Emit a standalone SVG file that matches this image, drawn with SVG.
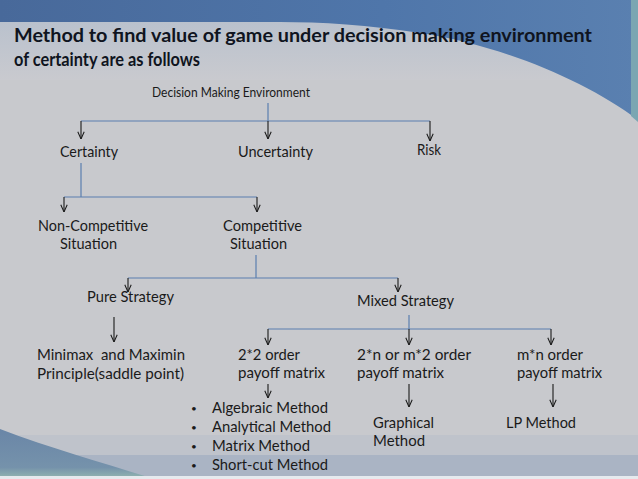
<svg xmlns="http://www.w3.org/2000/svg" width="638" height="479" viewBox="0 0 638 479">
<defs>
<linearGradient id="topg" x1="0" y1="0" x2="1" y2="0">
<stop offset="0" stop-color="#48699a"/>
<stop offset="0.6" stop-color="#4f76aa"/>
<stop offset="1" stop-color="#5a80b0"/>
</linearGradient>
<linearGradient id="bandg" x1="0" y1="0" x2="0" y2="1">
<stop offset="0" stop-color="#b9c1cd"/>
<stop offset="1" stop-color="#c9cacf"/>
</linearGradient>
<linearGradient id="triG" x1="0" y1="0" x2="0" y2="1">
<stop offset="0" stop-color="#6a86a7"/>
<stop offset="0.8" stop-color="#7592ab"/>
<stop offset="1" stop-color="#8fb2b0"/>
</linearGradient>
<marker id="ah" viewBox="0 0 10 10" refX="10" refY="5" markerWidth="8" markerHeight="8" markerUnits="userSpaceOnUse" orient="auto">
<path d="M1,1 L10,5 L1,9" fill="none" stroke="#1a1a1a" stroke-width="1.3"/>
</marker>
<style>
text{font-family:Lato,"Liberation Sans",Arial,sans-serif;fill:#1a1a1a;font-size:15px;white-space:pre}
.t{font-weight:bold;font-size:18.5px;fill:#0f1420}
.s{font-size:13px}
.d{font-size:10px}
.b{stroke:#5b7fb0;stroke-width:1.2;fill:none}
.a{stroke:#1a1a1a;stroke-width:1.1;fill:none;marker-end:url(#ah)}
</style>
</defs>
<!-- background -->
<rect width="638" height="479" fill="#c8c9cd"/>
<rect x="0" y="20" width="638" height="60" fill="url(#bandg)"/>
<path d="M0,0 H638 V120 C585,80 500,45 420,33 C370,25 320,22 280,22 H0 Z" fill="url(#topg)"/>
<path d="M631,0 H638 V122 L631,116 Z" fill="#7aa6b2"/>
<rect x="0" y="435" width="638" height="20" fill="#bfc3cb"/>
<rect x="0" y="455" width="638" height="21" fill="#aab4c4"/>
<path d="M0,429 C50,448 100,462 148,477 H0 Z" fill="url(#triG)"/>
<rect x="0" y="476" width="638" height="3" fill="#e6eaee"/>
<!-- title -->
<g id="title">
<text class="t" x="14" y="42" textLength="578" lengthAdjust="spacingAndGlyphs">Method to find value of game under decision making environment</text>
<text class="t" x="14" y="66" textLength="186" lengthAdjust="spacingAndGlyphs">of certainty are as follows</text>
</g>
<!-- connectors -->
<g id="connectors">
<path class="b" d="M268,103 V121 M81,121 H430"/>
<path class="a" d="M81,121 V139"/>
<path class="a" d="M268,121 V139"/>
<path class="a" d="M430,121 V141"/>
<path class="b" d="M81,163 V197 M64,197 H257"/>
<path class="a" d="M64,197 V212"/>
<path class="a" d="M257,197 V212"/>
<path class="b" d="M256,255 V278 M128,278 H398"/>
<path class="a" d="M128,278 V292"/>
<path class="a" d="M398,278 V292"/>
<path class="a" d="M114,317 V342"/>
<path class="b" d="M409,315 V329 M268,329 H551"/>
<path class="a" d="M268,329 V345"/>
<path class="a" d="M409,329 V345"/>
<path class="a" d="M551,329 V345"/>
<path class="a" d="M268,384 V398"/>
<path class="a" d="M409,384 V407"/>
<path class="a" d="M553,384 V407"/>
</g>
<!-- nodes -->
<g id="n-dme"><text class="s" x="152" y="97" textLength="158" lengthAdjust="spacingAndGlyphs">Decision Making Environment</text></g>
<g id="n-certainty"><text x="60" y="157" textLength="58" lengthAdjust="spacingAndGlyphs">Certainty</text></g>
<g id="n-uncertainty"><text x="238" y="157" textLength="75" lengthAdjust="spacingAndGlyphs">Uncertainty</text></g>
<g id="n-risk"><text x="417" y="155" textLength="24" lengthAdjust="spacingAndGlyphs" style="font-size:15.5px">Risk</text></g>
<g id="n-noncomp"><text x="38" y="231" textLength="110" lengthAdjust="spacingAndGlyphs">Non-Competitive</text><text x="60" y="249" textLength="57" lengthAdjust="spacingAndGlyphs">Situation</text></g>
<g id="n-comp"><text x="223" y="231" textLength="79" lengthAdjust="spacingAndGlyphs">Competitive</text><text x="230" y="249" textLength="57" lengthAdjust="spacingAndGlyphs">Situation</text></g>
<g id="n-pure"><text x="87" y="302" textLength="87" lengthAdjust="spacingAndGlyphs">Pure Strategy</text></g>
<g id="n-mixed"><text x="357" y="306" textLength="97" lengthAdjust="spacingAndGlyphs">Mixed Strategy</text></g>
<g id="n-minimax"><text x="37" y="360" textLength="148" lengthAdjust="spacingAndGlyphs">Minimax  and Maximin</text><text x="37" y="379" textLength="147" lengthAdjust="spacingAndGlyphs">Principle(saddle point)</text></g>
<g id="n-22"><text x="238" y="360" textLength="62" lengthAdjust="spacingAndGlyphs">2*2 order</text><text x="238" y="378" textLength="87" lengthAdjust="spacingAndGlyphs">payoff matrix</text></g>
<g id="n-2n"><text x="357" y="360" textLength="114" lengthAdjust="spacingAndGlyphs">2*n or m*2 order</text><text x="357" y="378" textLength="87" lengthAdjust="spacingAndGlyphs">payoff matrix</text></g>
<g id="n-mn"><text x="517" y="360" textLength="66" lengthAdjust="spacingAndGlyphs">m*n order</text><text x="517" y="378" textLength="85" lengthAdjust="spacingAndGlyphs">payoff matrix</text></g>
<g id="n-methods">
<text class="d" x="191" y="412">•</text><text x="212" y="413" textLength="116" lengthAdjust="spacingAndGlyphs">Algebraic Method</text>
<text class="d" x="191" y="431">•</text><text x="212" y="432" textLength="119" lengthAdjust="spacingAndGlyphs">Analytical Method</text>
<text class="d" x="191" y="450">•</text><text x="212" y="451" textLength="98" lengthAdjust="spacingAndGlyphs">Matrix Method</text>
<text class="d" x="191" y="469">•</text><text x="212" y="470" textLength="116" lengthAdjust="spacingAndGlyphs">Short-cut Method</text>
</g>
<g id="n-graphical"><text x="373" y="428" textLength="61" lengthAdjust="spacingAndGlyphs">Graphical</text><text x="373" y="446" textLength="52" lengthAdjust="spacingAndGlyphs">Method</text></g>
<g id="n-lp"><text x="506" y="428" textLength="70" lengthAdjust="spacingAndGlyphs">LP Method</text></g>
</svg>
